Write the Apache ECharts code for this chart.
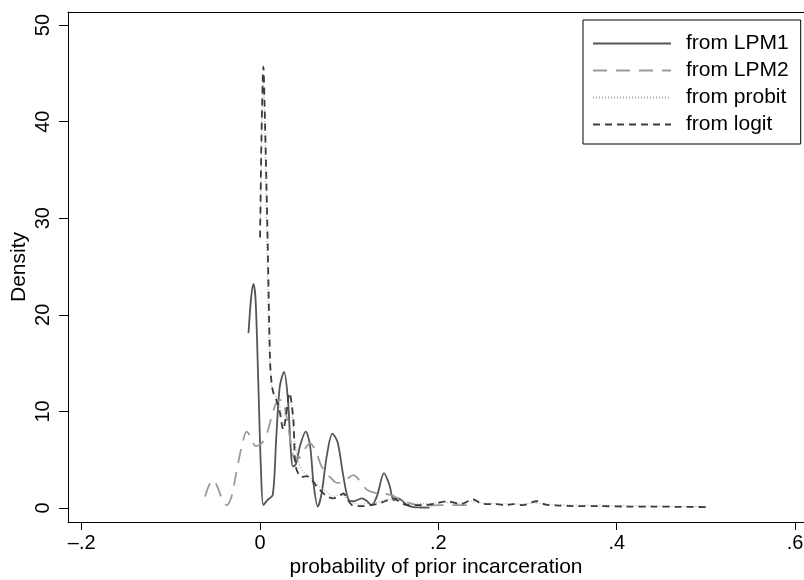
<!DOCTYPE html>
<html>
<head>
<meta charset="utf-8">
<script src="https://cdn.jsdelivr.net/npm/echarts@6/dist/echarts.min.js"></script>
<style>html,body{margin:0;padding:0;background:#fff}#c{width:804px;height:580px}</style>
</head>
<body>
<div id="c"></div>
<script>
const seriesNames = ['from LPM1', 'from LPM2', 'from probit', 'from logit'];
const xTicks = [-0.2, 0, 0.2, 0.4, 0.6];
const yTicks = [0, 10, 20, 30, 40, 50];

const lpm1X = [-0.013, -0.010, -0.0075, -0.005, -0.002, 0.001, 0.0037, 0.008, 0.0142, 0.018, 0.022, 0.0269, 0.031, 0.0345, 0.0367, 0.040, 0.045, 0.0512, 0.056, 0.060, 0.0647, 0.069, 0.075, 0.0811, 0.087, 0.093, 0.099, 0.105, 0.114, 0.120, 0.125, 0.131, 0.139, 0.145, 0.150, 0.155, 0.160, 0.165, 0.172, 0.180, 0.190];
const lpm1Y = [18.1, 21.8, 23.2, 21.5, 13, 4, 0.3, 0.8, 1.35, 7, 12.5, 14.1, 11.5, 6, 4.3, 4.5, 6.5, 7.9, 6.5, 2.5, 0.15, 1.5, 5.5, 7.7, 6.8, 3.5, 0.9, 0.7, 1.0, 0.7, 0.3, 1.2, 3.6, 2.4, 0.8, 1.0, 0.7, 0.3, 0.1, 0.05, 0.03];

const lpm2X = [-0.0617, -0.057, -0.0524, -0.047, -0.042, -0.0374, -0.032, -0.027, -0.021, -0.015, -0.010, -0.005, 0.002, 0.008, 0.014, 0.019, 0.0243, 0.029, 0.034, 0.039, 0.044, 0.050, 0.056, 0.062, 0.068, 0.0735, 0.0785, 0.084, 0.090, 0.097, 0.1047, 0.112, 0.1197, 0.128, 0.138, 0.148, 0.1585, 0.168, 0.1795, 0.19, 0.20, 0.215, 0.235];
const lpm2Y = [1.2, 2.4, 2.9, 2.0, 0.8, 0.3, 1.2, 3.5, 6.2, 7.9, 7.3, 6.4, 6.7, 7.8, 9.8, 11.0, 11.2, 9.8, 7.0, 5.0, 5.2, 6.1, 6.7, 6.0, 4.5, 3.6, 3.2, 2.7, 2.6, 3.0, 3.4, 2.8, 1.9, 1.6, 1.5, 1.3, 0.8, 0.5, 0.25, 0.25, 0.3, 0.3, 0.3];

const probitX = [0.0005, 0.002, 0.0035, 0.005, 0.0075, 0.0105, 0.014, 0.018, 0.022, 0.026, 0.030, 0.034, 0.038, 0.043, 0.048, 0.054, 0.060, 0.067, 0.074, 0.082, 0.090, 0.097, 0.105, 0.113, 0.122, 0.132, 0.142, 0.152, 0.162, 0.175, 0.19, 0.205, 0.22, 0.235, 0.25, 0.27, 0.29, 0.31, 0.33, 0.36, 0.40, 0.44, 0.48, 0.50];
const probitY = [30, 40, 44.5, 41, 28, 16, 12, 11.5, 10.5, 9.5, 10.5, 11, 7.5, 4.8, 3.8, 3.4, 2.8, 2.2, 1.7, 1.2, 1.4, 1.0, 0.5, 0.4, 0.5, 0.6, 0.9, 0.9, 0.6, 0.5, 0.45, 0.6, 0.5, 0.7, 0.5, 0.45, 0.4, 0.5, 0.35, 0.3, 0.25, 0.2, 0.15, 0.12];

const logitX = [0.000, 0.0015, 0.003, 0.0037, 0.005, 0.008, 0.0112, 0.013, 0.015, 0.019, 0.0224, 0.026, 0.029, 0.033, 0.0374, 0.040, 0.0467, 0.052, 0.057, 0.063, 0.069, 0.075, 0.082, 0.088, 0.0935, 0.098, 0.103, 0.110, 0.1165, 0.124, 0.131, 0.140, 0.1496, 0.157, 0.165, 0.175, 0.185, 0.198, 0.21, 0.225, 0.239, 0.247, 0.256, 0.265, 0.275, 0.284, 0.295, 0.31, 0.32, 0.335, 0.35, 0.38, 0.41, 0.44, 0.47, 0.50];
const logitY = [28, 38, 44.5, 45.7, 42, 30, 15.3, 12.9, 11.9, 11, 9.8, 8.1, 9.5, 11.9, 9.1, 4.3, 3.2, 3.3, 3.0, 2.3, 1.7, 1.2, 1.0, 1.2, 1.5, 0.9, 0.3, 0.2, 0.2, 0.3, 0.4, 0.7, 1.0, 0.6, 0.3, 0.3, 0.3, 0.5, 0.7, 0.4, 0.9, 0.5, 0.4, 0.4, 0.3, 0.4, 0.3, 0.7, 0.35, 0.25, 0.2, 0.2, 0.15, 0.15, 0.12, 0.1];

const zip = (xs, ys) => xs.map((x, i) => [x, ys[i]]);
const FONT = 'Liberation Sans, Arial, sans-serif';
const fmtX = v => {
  if (v === 0) return '0';
  const s = String(Math.abs(v)).replace(/^0/, '');
  return (v < 0 ? '\u2013' : '') + s;
};

const chart = echarts.init(document.getElementById('c'), null, {renderer: 'canvas'});
const mk = (name, xs, ys, color, type, width) => ({
  name, type: 'line', data: zip(xs, ys), showSymbol: false, symbol: 'none',
  smooth: 0.3, xAxisIndex: 0, yAxisIndex: 0,
  lineStyle: {color, type, width}, itemStyle: {color}
});
chart.setOption({
  animation: false,
  backgroundColor: '#fff',
  grid: {left: 68, top: 12, right: 0, bottom: 58, containLabel: false, outerBoundsMode: 'none'},
  legend: {
    orient: 'vertical', left: 583, top: 20,
    data: seriesNames,
    backgroundColor: '#fff', borderColor: '#000', borderWidth: 1, borderRadius: 0,
    padding: [13, 12, 9, 9],
    itemWidth: 78, itemHeight: 14, itemGap: 6,
    itemStyle: {opacity: 0},
    lineStyle: {opacity: 1},
    textStyle: {fontFamily: FONT, fontSize: 21, color: '#000', padding: [0, 0, 0, 10]}
  },
  xAxis: [{
    type: 'value', min: -0.2154, max: 0.61, position: 'bottom',
    name: 'probability of prior incarceration', nameLocation: 'middle', nameGap: 35,
    nameMoveOverlap: false,
    nameTextStyle: {fontFamily: FONT, fontSize: 21, color: '#000'},
    axisLine: {show: true, onZero: false, lineStyle: {color: '#000', width: 1}},
    axisTick: {show: true, length: 8, customValues: xTicks, lineStyle: {color: '#000'}},
    axisLabel: {customValues: xTicks, formatter: fmtX, margin: 11, fontFamily: FONT, fontSize: 20, color: '#000', showMaxLabel: true, showMinLabel: true},
    splitLine: {show: false}
  }, {
    type: 'value', min: -0.2154, max: 0.61, position: 'top',
    axisLine: {show: true, onZero: false, lineStyle: {color: '#000', width: 1}},
    axisTick: {show: false}, axisLabel: {show: false}, splitLine: {show: false}
  }],
  yAxis: {
    type: 'value', min: -1.45, max: 51.35,
    name: 'Density', nameLocation: 'middle', nameGap: 38, nameRotate: 90,
    nameMoveOverlap: false,
    nameTextStyle: {fontFamily: FONT, fontSize: 21, color: '#000'},
    axisLine: {show: true, onZero: false, lineStyle: {color: '#000', width: 1}},
    axisTick: {show: true, length: 9, customValues: yTicks, lineStyle: {color: '#000'}},
    axisLabel: {customValues: yTicks, rotate: 90, margin: 15, fontFamily: FONT, fontSize: 20, color: '#000'},
    splitLine: {show: false}
  },
  series: [
    mk(seriesNames[0], lpm1X, lpm1Y, '#555555', 'solid', 1.8),
    mk(seriesNames[1], lpm2X, lpm2Y, '#9a9a9a', [14, 9], 1.8),
    mk(seriesNames[2], probitX, probitY, '#aaaaaa', [1, 2], 1.2),
    mk(seriesNames[3], logitX, logitY, '#3c3c3c', [7, 5], 1.8)
  ]
});
</script>
</body>
</html>
